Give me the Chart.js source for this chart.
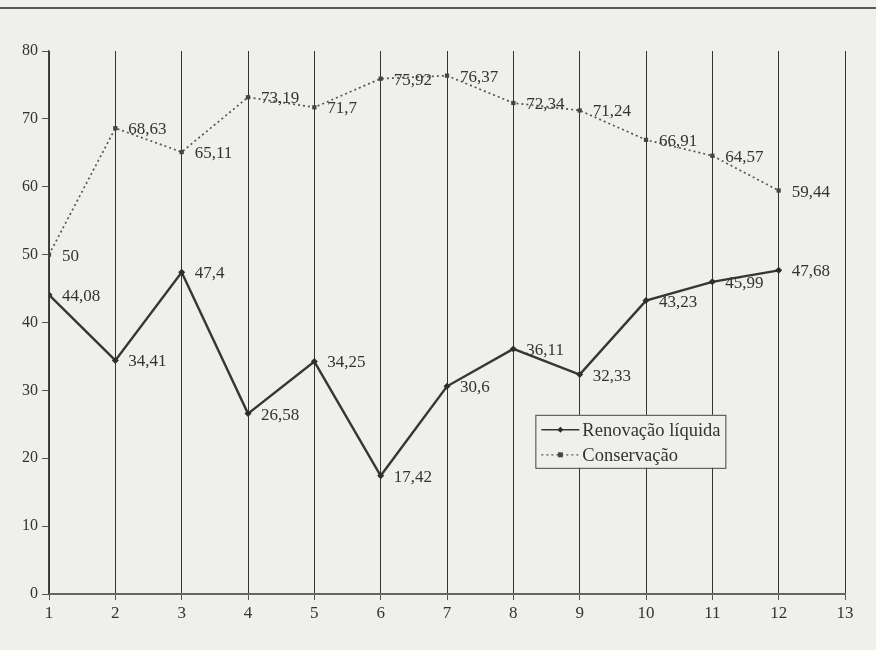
<!DOCTYPE html>
<html>
<head>
<meta charset="utf-8">
<script src="https://cdn.jsdelivr.net/npm/chart.js@4/dist/chart.umd.min.js"></script>
<style>
  html, body { margin: 0; padding: 0; background: #efefec; }
  #wrap { position: relative; width: 876px; height: 650px; }
  #rule { position: absolute; left: 0; top: 7px; width: 876px; height: 2px; background: #5a5a5a; }
  canvas { position: absolute; left: 0; top: 0; }
</style>
</head>
<body>
<div id="wrap">
  <div id="rule"></div>
  <canvas id="c" width="876" height="650"></canvas>
</div>
<script>
// Periods on the horizontal axis
const periods = [1, 2, 3, 4, 5, 6, 7, 8, 9, 10, 11, 12];
// Series values
const renovacao = [44.08, 34.41, 47.4, 26.58, 34.25, 17.42, 30.6, 36.11, 32.33, 43.23, 45.99, 47.68];
const conservacao = [50, 68.63, 65.11, 73.19, 71.7, 75.92, 76.37, 72.34, 71.24, 66.91, 64.57, 59.44];
const seriesNames = ['Renovação líquida', 'Conservação'];
// Axis ranges
const xRange = [1, 13];
const yRange = [0, 80];

const FONT = '"Liberation Serif", "Times New Roman", serif';
const INK = '#333333';

function fmt(v) { return String(v).replace('.', ','); }

// Writes each value just to the right of its point
const valueLabels = {
  id: 'valueLabels',
  afterDatasetsDraw(chart) {
    const ctx = chart.ctx;
    ctx.save();
    ctx.font = '17px ' + FONT;
    ctx.fillStyle = INK;
    ctx.textAlign = 'left';
    ctx.textBaseline = 'middle';
    chart.data.datasets.forEach((ds, i) => {
      chart.getDatasetMeta(i).data.forEach((pt, j) => {
        ctx.fillText(fmt(ds.data[j].y), pt.x + 13, pt.y + 1.5);
      });
    });
    ctx.restore();
  }
};

// Boxed legend placed inside the plot area
const boxLegend = {
  id: 'boxLegend',
  afterDraw(chart, args, opts) {
    const ctx = chart.ctx;
    const a = chart.chartArea;
    const x = a.left + opts.fx * (a.right - a.left);
    const y = a.top + opts.fy * (a.bottom - a.top);
    const w = opts.w, h = opts.h;
    ctx.save();
    ctx.fillStyle = '#efefec';
    ctx.fillRect(x, y, w, h);
    ctx.strokeStyle = '#444';
    ctx.lineWidth = 1;
    ctx.strokeRect(x + 0.5, y + 0.5, w, h);
    ctx.font = '18.5px ' + FONT;
    ctx.textBaseline = 'middle';
    ctx.textAlign = 'left';
    chart.data.datasets.forEach((ds, i) => {
      const cy = y + 15 + i * 25;
      const x0 = x + 6, x1 = x + 44;
      ctx.strokeStyle = ds.borderColor;
      ctx.lineWidth = i === 0 ? 1.5 : 1.2;
      ctx.setLineDash(ds.borderDash || []);
      ctx.beginPath();
      ctx.moveTo(x0, cy);
      ctx.lineTo(x1, cy);
      ctx.stroke();
      ctx.setLineDash([]);
      ctx.fillStyle = ds.pointBackgroundColor;
      const mx = (x0 + x1) / 2;
      if (i === 0) {
        ctx.beginPath();
        ctx.moveTo(mx, cy - 3); ctx.lineTo(mx + 3, cy); ctx.lineTo(mx, cy + 3); ctx.lineTo(mx - 3, cy);
        ctx.closePath(); ctx.fill();
      } else {
        ctx.fillRect(mx - 2.5, cy - 2.5, 5, 5);
      }
      ctx.fillStyle = INK;
      ctx.fillText(ds.label, x1 + 3, cy + 1);
    });
    ctx.restore();
  }
};

new Chart(document.getElementById('c'), {
  type: 'line',
  data: {
    datasets: [
      {
        label: seriesNames[0],
        data: periods.map((p, i) => ({ x: p, y: renovacao[i] })),
        borderColor: '#363636',
        borderWidth: 2.4,
        pointStyle: 'rectRot',
        pointRadius: 3.5,
        pointBackgroundColor: '#2e2e2e',
        pointBorderWidth: 0,
        tension: 0
      },
      {
        label: seriesNames[1],
        data: periods.map((p, i) => ({ x: p, y: conservacao[i] })),
        borderColor: '#555555',
        borderWidth: 1.7,
        borderDash: [2, 3],
        pointStyle: 'rect',
        pointRadius: 3,
        pointBackgroundColor: '#444',
        pointBorderWidth: 0,
        tension: 0
      }
    ]
  },
  options: {
    responsive: false,
    animation: false,
    layout: { padding: { left: 0, right: 31, top: 51, bottom: 0 } },
    plugins: {
      legend: { display: false },
      tooltip: { enabled: false },
      boxLegend: { fx: 0.611, fy: 0.670, w: 190, h: 53 }
    },
    scales: {
      x: {
        type: 'linear',
        min: xRange[0],
        max: xRange[1],
        afterFit(s) { s.height = 56; },
        ticks: { stepSize: 1, color: INK, font: { family: FONT, size: 17 }, padding: 3 },
        grid: { color: '#333', lineWidth: 1, drawOnChartArea: true, drawTicks: true, tickLength: 6, tickColor: '#555' },
        border: { display: true, color: '#666', width: 2 }
      },
      y: {
        type: 'linear',
        min: yRange[0],
        max: yRange[1],
        afterFit(s) { s.width = 49; },
        ticks: { stepSize: 10, color: INK, font: { family: FONT, size: 16 }, padding: 4 },
        grid: { drawOnChartArea: false, drawTicks: true, tickLength: 7, tickColor: '#555' },
        border: { display: true, color: '#444', width: 1.2 }
      }
    }
  },
  plugins: [valueLabels, boxLegend]
});
</script>
</body>
</html>
